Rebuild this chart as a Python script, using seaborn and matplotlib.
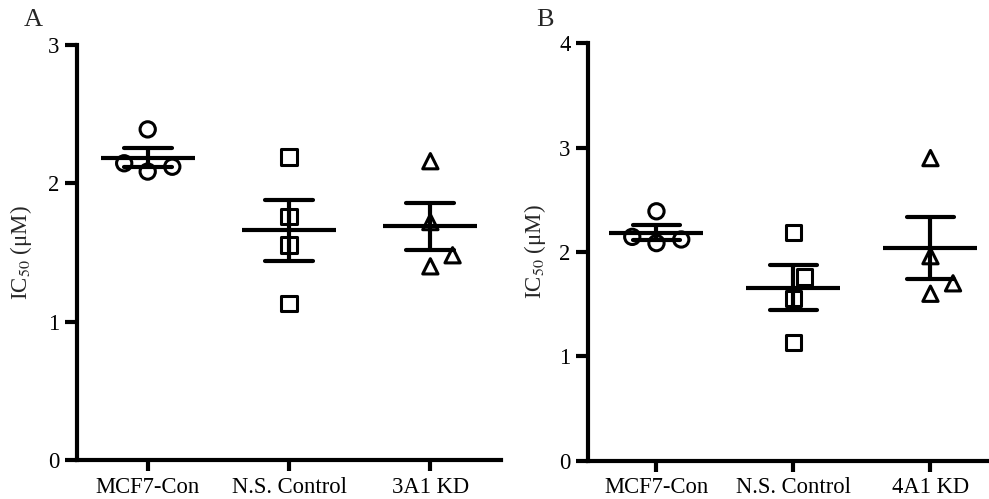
import numpy as np
import pandas as pd
import matplotlib
matplotlib.use("Agg")
import matplotlib.pyplot as plt
import seaborn as sns

# ---- data ----
cats_a = ["MCF7-Con", "N.S. Control", "3A1 KD"]
cats_b = ["MCF7-Con", "N.S. Control", "4A1 KD"]
mcf7_con = [2.39, 2.145, 2.085, 2.12]
ns_control = [2.19, 1.76, 1.555, 1.133]
kd_3a1 = [2.16, 1.72, 1.40, 1.48]
kd_4a1 = [2.90, 1.96, 1.60, 1.70]
yticks_a = [0, 1, 2, 3]
yticks_b = [0, 1, 2, 3, 4]
markers = ["o", "s", "^"]

sns.set_theme(style="ticks")
plt.rcParams["font.family"] = ["Liberation Serif", "DejaVu Serif"]
plt.rcParams["mathtext.fontset"] = "stix"

fig = plt.figure(figsize=(9.89, 4.99), dpi=100)
ax_a = fig.add_axes([0.0779, 0.0782, 0.4287, 0.8316])
ax_b = fig.add_axes([0.5945, 0.0768, 0.4045, 0.8364])

MARKER_SIZE = 11
SWARM_SPACING_SIZE = 15


def make_df(cats, groups):
    rows = []
    for c, vals in zip(cats, groups):
        for v in vals:
            rows.append({"group": c, "value": v})
    return pd.DataFrame(rows)


swarm_colls = []


def draw(ax, cats, groups, yticks, xmax):
    df = make_df(cats, groups)
    # mean +/- SEM
    sns.pointplot(data=df, x="group", y="value", order=cats, errorbar="se",
                  capsize=0.34, color="black", linestyle="none", marker="_",
                  markersize=67, markeredgewidth=3.0,
                  err_kws={"linewidth": 3.0}, ax=ax, zorder=3)
    for i, (c, m) in enumerate(zip(cats, markers)):
        sub = df[df["group"] == c]
        n_before = len(ax.collections)
        sns.swarmplot(data=sub, x="group", y="value", order=cats, marker=m,
                      size=SWARM_SPACING_SIZE, color="black", edgecolor="black",
                      linewidth=2.2, facecolor="none", ax=ax, zorder=4)
        for coll in ax.collections[n_before:]:
            swarm_colls.append((coll, i))
    for coll in ax.collections:
        coll.set_facecolor("none")
        coll.set_edgecolor("black")
    ax.set_ylim(yticks[0], yticks[-1])
    ax.set_xlim(-0.5, xmax)
    ax.set_yticks(yticks)
    ax.set_xticks(range(len(cats)))
    ax.set_xticklabels(cats)
    ax.set_xlabel("")
    ax.set_ylabel("IC$_{50}$ (\u03bcM)", fontsize=16.5)
    sns.despine(ax=ax)
    for s in ["left", "bottom"]:
        ax.spines[s].set_linewidth(3.0)
        ax.spines[s].set_color("black")
    ax.tick_params(axis="y", length=8.6, width=3.0, pad=4, labelsize=16.3,
                   colors="black")
    ax.tick_params(axis="x", length=8.0, width=3.0, pad=4, labelsize=16.3,
                   colors="black")
    ax.set_facecolor("white")


draw(ax_a, cats_a, [mcf7_con, ns_control, kd_3a1], yticks_a, 2.5)
draw(ax_b, cats_b, [mcf7_con, ns_control, kd_4a1], yticks_b, 2.42)
ax_a.yaxis.set_label_coords(-0.102, 0.5)
ax_b.yaxis.set_label_coords(-0.101, 0.5)

fig.text(33 / 989, 1 - 20 / 499, "A", fontsize=19, ha="center", va="center")
fig.text(545 / 989, 1 - 20 / 499, "B", fontsize=19, ha="center", va="center")

# let seaborn's beeswarm lay out the points (with wider spacing), then freeze
fig.canvas.draw()
for coll, center in swarm_colls:
    offs = np.array(coll.get_offsets(), dtype=float)
    if "draw" in coll.__dict__:
        del coll.draw
    offs[:, 0] = 2 * center - offs[:, 0]   # GraphPad spreads to the right first
    coll.set_offsets(offs)
    coll.set_sizes([MARKER_SIZE ** 2])

fig.savefig("out.png", dpi=100, facecolor="white")
